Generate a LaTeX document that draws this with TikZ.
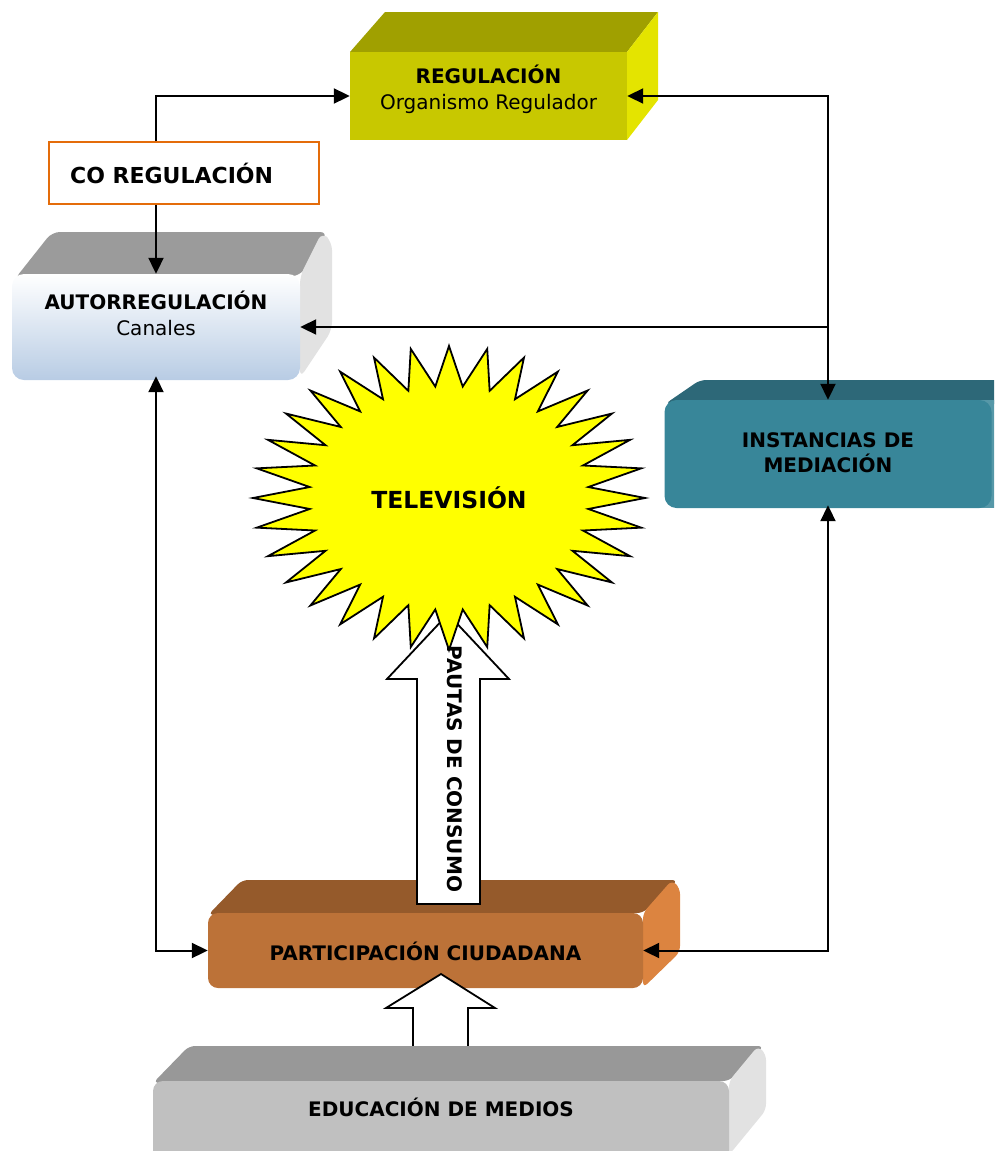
\documentclass[tikz,border=0pt]{standalone}
\usepackage{fontspec}
\setmainfont{DejaVu Sans}
\usetikzlibrary{arrows.meta}

\definecolor{regfront}{RGB}{200,200,0}
\definecolor{regtop}{RGB}{160,160,0}
\definecolor{regside}{RGB}{228,228,0}
\definecolor{autoblue}{RGB}{184,204,228}
\definecolor{autotop}{RGB}{155,155,155}
\definecolor{autoside}{RGB}{226,226,226}
\definecolor{instfront}{RGB}{56,134,153}
\definecolor{insttop}{RGB}{45,104,120}
\definecolor{partfront}{RGB}{188,114,56}
\definecolor{parttop}{RGB}{149,90,43}
\definecolor{partside}{RGB}{220,132,64}
\definecolor{edufront}{RGB}{192,192,192}
\definecolor{edutop}{RGB}{152,152,152}
\definecolor{eduside}{RGB}{226,226,226}
\definecolor{coregline}{RGB}{228,108,10}
\definecolor{tvyellow}{RGB}{255,255,0}

\tikzset{
  front/.style={inner sep=0pt},
  lbl/.style={inner sep=0pt, align=center, font=\fontsize{20}{26}\selectfont},
  link/.style={line width=2pt, -{Triangle[length=16pt,width=15pt]}},
  twoway/.style={line width=2pt, {Triangle[length=16pt,width=15pt]}-{Triangle[length=16pt,width=15pt]}},
  hollow/.style={fill=white, draw=black, line width=1.8pt, line join=miter},
}

\begin{document}
\begin{tikzpicture}[x=1pt,y=-1pt]
  \useasboundingbox (0,0) rectangle (994,1151);
  \clip (0,0) rectangle (994,1151);

  % regulacion
  \fill[regtop] (350,52) -- (385,12) -- (658,12) -- (627,52) -- cycle;
  \fill[regside] (627,52) -- (658,12) -- (658,100) -- (627,140) -- cycle;
  \node[front, fill=regfront, minimum width=277, minimum height=88] (reg) at (488.5,96) {};
  \node[lbl] (regtxt) at (488.5,89) {\textbf{REGULACIÓN}\\Organismo Regulador};

  % co regulacion
  \node[front, draw=coregline, line width=1.5pt, fill=white, minimum width=270, minimum height=62] (coreg) at (184,173) {};
  \node[inner sep=0pt, anchor=west, font=\bfseries\fontsize{22}{26}\selectfont] (coregtxt) at (70,173) {CO REGULACIÓN};

  % autorregulacion
  \fill[autotop, rounded corners=8] (14,280) -- (52,232) -- (328,232) -- (300,276) -- cycle;
  \fill[autoside, rounded corners=8] (300,276) -- (322,232) -- (332,242) -- (332,330) -- (300,378) -- cycle;
  \node[front, top color=white, bottom color=autoblue, rounded corners=12, minimum width=288, minimum height=106] (auto) at (156,327) {};
  \node[lbl] (autotxt) at (156,313) {\textbf{AUTORREGULACIÓN}\\Canales};

  % instancias de mediacion
  \fill[insttop, rounded corners=6] (665,404) -- (700,380) -- (1010,380) -- (1010,404) -- cycle;
  \fill[instfront!85!white] (980,400) rectangle (1000,508);
  \node[front, fill=instfront, rounded corners=12, minimum width=327, minimum height=108] (inst) at (828,454) {};
  \node[lbl, font=\bfseries\fontsize{20}{25}\selectfont] (insttxt) at (828,453) {INSTANCIAS DE\\MEDIACIÓN};

  % participacion ciudadana
  \fill[parttop, rounded corners=6] (208,915) -- (242,880) -- (678,880) -- (643,913) -- cycle;
  \fill[partside, rounded corners=6] (643,913) -- (672,880) -- (680,888) -- (680,952) -- (643,988) -- cycle;
  \node[front, fill=partfront, rounded corners=10, minimum width=435, minimum height=75] (part) at (425.5,950.5) {};
  \node[lbl, font=\bfseries\fontsize{20}{26}\selectfont] (parttxt) at (425.5,951) {PARTICIPACIÓN CIUDADANA};

  % pautas de consumo
  \draw[hollow] (417,904) -- (417,679) -- (387,679) -- (448,614) -- (509,679) -- (480,679) -- (480,904) -- cycle;

  % television
  \coordinate (tvc) at (449,498);
  \filldraw[fill=tvyellow, line width=1.8pt, line join=miter] (645,498)
    \foreach \k in {0,...,31} {
      -- ({449+140*cos(\k*11.25+5.625)},{498+112*sin(\k*11.25+5.625)})
      -- ({449+196*cos((\k+1)*11.25)},{498+152*sin((\k+1)*11.25)})
    } -- cycle;
  \node[inner sep=0pt, font=\bfseries\fontsize{23.5}{28}\selectfont] (tv) at (tvc) {TELEVISIÓN};
  \node[inner sep=0pt, rotate=-90, font=\bfseries\fontsize{20}{26}\selectfont] (pautas) at (455,769) {PAUTAS DE CONSUMO};

  % educacion de medios
  \draw[hollow] (413,1050) -- (413,1008) -- (386,1008) -- (441,974) -- (495,1008) -- (468,1008) -- (468,1050);
  \fill[edutop, rounded corners=6] (153,1083) -- (189,1046) -- (764,1046) -- (729,1081) -- cycle;
  \fill[eduside, rounded corners=6] (729,1081) -- (758,1046) -- (766,1054) -- (766,1110) -- (729,1155) -- cycle;
  \node[front, fill=edufront, rounded corners=10, minimum width=576, minimum height=94] (edu) at (441,1128) {};
  \node[lbl, font=\bfseries\fontsize{20}{26}\selectfont] (edutxt) at (441,1107) {EDUCACIÓN DE MEDIOS};

  % conectores
  \draw[link] (auto.north |- coreg.north) |- (reg.west);
  \draw[link] (auto.north |- coreg.south) -- (auto.north);
  \draw[twoway] (reg.east) -| (inst.north);
  \draw[link] (inst.north |- auto.east) -- (auto.east);
  \draw[twoway] ([yshift=4]auto.south) |- (part.west);
  \draw[twoway] (part.east) -| ([yshift=3]inst.south);
\end{tikzpicture}
\end{document}
